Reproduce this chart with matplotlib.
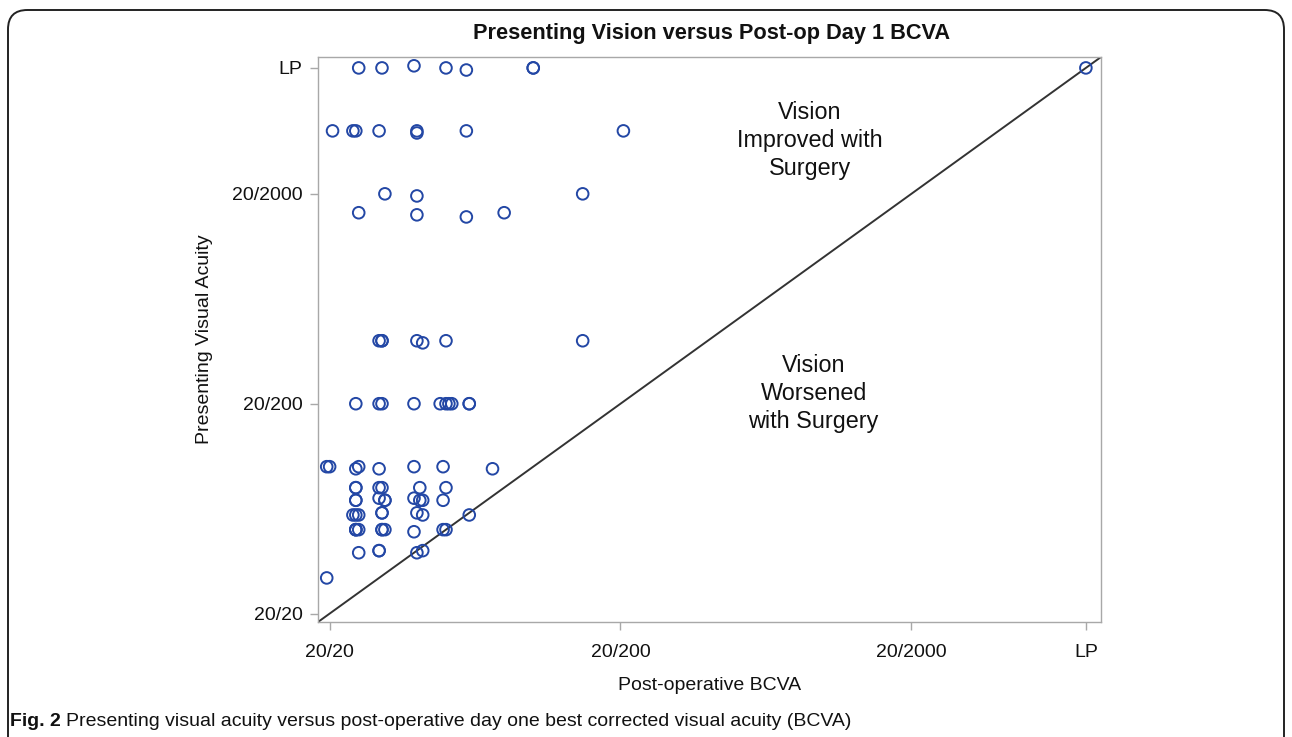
import matplotlib
matplotlib.use("Agg")
import matplotlib.pyplot as plt
from matplotlib.patches import FancyBboxPatch

plt.rcParams['font.family'] = ['Liberation Sans', 'DejaVu Sans']

# logMAR scale: 20/20 = 0, 20/200 = 1, 20/2000 = 2, LP = 2.6
tick_values = [0.0, 1.0, 2.0, 2.6]
tick_labels = ["20/20", "20/200", "20/2000", "LP"]

# Post-operative BCVA (x) and presenting visual acuity (y), logMAR
post_bcva = [
    # LP row
    0.10, 0.18, 0.29, 0.40, 0.47, 0.70, 0.70, 2.60,
    # ~2.3 row
    0.01, 0.08, 0.09, 0.17, 0.30, 0.30, 0.47, 1.01,
    # 20/2000 row
    0.19, 0.30, 0.87,
    # ~1.9 row
    0.10, 0.30, 0.47, 0.60,
    # 1.3 row
    0.17, 0.18, 0.18, 0.30, 0.32, 0.40, 0.87,
    # 20/200 row
    0.09, 0.17, 0.18, 0.29, 0.38, 0.40, 0.41, 0.42, 0.48, 0.48,
    # 0.7 row
    -0.01, 0.00, 0.09, 0.10, 0.17, 0.29, 0.39, 0.56,
    # 0.6 row
    0.09, 0.09, 0.17, 0.18, 0.31, 0.40,
    # 0.54 row
    0.09, 0.09, 0.17, 0.19, 0.19, 0.29, 0.31, 0.32, 0.39,
    # 0.48 row
    0.08, 0.09, 0.10, 0.18, 0.18, 0.30, 0.32, 0.48,
    # 0.4 row
    0.09, 0.09, 0.09, 0.10, 0.18, 0.18, 0.19, 0.29, 0.39, 0.40,
    # 0.3 row
    0.10, 0.17, 0.17, 0.30, 0.32,
    # 0.18 row
    -0.01,
]
presenting_va = [
    2.60, 2.60, 2.61, 2.60, 2.59, 2.60, 2.60, 2.60,
    2.30, 2.30, 2.30, 2.30, 2.29, 2.30, 2.30, 2.30,
    2.00, 1.99, 2.00,
    1.91, 1.90, 1.89, 1.91,
    1.30, 1.30, 1.30, 1.30, 1.29, 1.30, 1.30,
    1.00, 1.00, 1.00, 1.00, 1.00, 1.00, 1.00, 1.00, 1.00, 1.00,
    0.70, 0.70, 0.69, 0.70, 0.69, 0.70, 0.70, 0.69,
    0.60, 0.60, 0.60, 0.60, 0.60, 0.60,
    0.54, 0.54, 0.55, 0.54, 0.54, 0.55, 0.54, 0.54, 0.54,
    0.47, 0.47, 0.47, 0.48, 0.48, 0.48, 0.47, 0.47,
    0.40, 0.40, 0.40, 0.40, 0.40, 0.40, 0.40, 0.39, 0.40, 0.40,
    0.29, 0.30, 0.30, 0.29, 0.30,
    0.17,
]

axis_min, axis_max = -0.04, 2.652

fig = plt.figure(figsize=(12.92, 7.37), dpi=100)
ax = fig.add_axes([318 / 1292, 1 - 622 / 737, (1101 - 318) / 1292, (622 - 57) / 737])

ax.plot([axis_min, axis_max], [axis_min, axis_max], color="#333333", lw=1.4, zorder=1)
ax.scatter(post_bcva, presenting_va, s=70, facecolors="none", edgecolors="#2347a5",
           linewidths=1.4, zorder=3)

ax.set_xlim(axis_min, axis_max)
ax.set_ylim(axis_min, axis_max)
ax.set_xticks(tick_values)
ax.set_xticklabels(tick_labels)
ax.set_yticks(tick_values)
ax.set_yticklabels(tick_labels)
for sp in ax.spines.values():
    sp.set_color("#a8a8a8")
    sp.set_linewidth(1.0)
ax.tick_params(axis="both", colors="#a8a8a8", labelcolor="#111111", length=6,
               width=1.0, labelsize=14)
ax.tick_params(axis="x", pad=10)
ax.tick_params(axis="y", pad=5)

ax.set_xlabel("Post-operative BCVA", fontsize=14, color="#111111", labelpad=11)
ax.set_ylabel("Presenting Visual Acuity", fontsize=14, color="#111111", labelpad=14)

ax.text(1.65, 2.253, "Vision\nImproved with\nSurgery", ha="center", va="center",
        fontsize=16.8, color="#111111", linespacing=1.27)
ax.text(1.664, 1.047, "Vision\nWorsened\nwith Surgery", ha="center", va="center",
        fontsize=16.8, color="#111111", linespacing=1.27)

fig.text(712 / 1292, 1 - 33 / 737, "Presenting Vision versus Post-op Day 1 BCVA",
         ha="center", va="center", fontsize=15.7, fontweight="bold", color="#111111")

# outer rounded border
border = FancyBboxPatch((8 / 1292, -0.05), (1284 - 8) / 1292, 1.05 - 10 / 737,
                        boxstyle="round,pad=0,rounding_size=0.015",
                        transform=fig.transFigure, fill=False, edgecolor="#222222",
                        linewidth=1.4, mutation_aspect=1292 / 737)
fig.patches.append(border)

t1 = fig.text(10 / 1292, 1 - 721 / 737, "Fig. 2", ha="left", va="center",
              fontsize=14, fontweight="bold", color="#111111")
fig.canvas.draw()
bb = t1.get_window_extent()
fig.text((bb.x1 + 5) / 1292, 1 - 721 / 737,
         "Presenting visual acuity versus post-operative day one best corrected visual acuity (BCVA)",
         ha="left", va="center", fontsize=14, color="#111111")

fig.savefig("out.png", dpi=100)
